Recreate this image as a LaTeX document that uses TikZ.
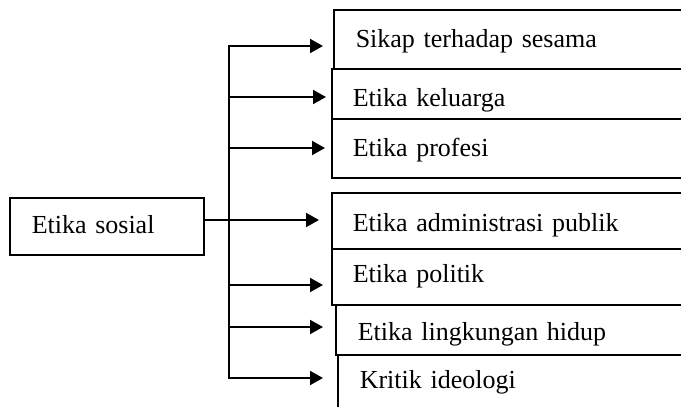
\documentclass[tikz,border=0pt]{standalone}
\usepackage{fontspec}
\setmainfont{Liberation Serif}
\usetikzlibrary{arrows.meta,calc}

\begin{document}
\begin{tikzpicture}[x=1pt,y=-1pt,font=\fontsize{26}{30}\selectfont,
  catbox/.style={draw,line width=1.5pt,anchor=north west,inner ysep=0pt,text width=400pt,align=left},
  branch/.style={line width=2pt,-{Triangle[length=13pt,width=14pt]}}]
\useasboundingbox (0,0) rectangle (681,407);
\clip (0,0) rectangle (681,407);

\node[catbox,text width=150pt,inner xsep=22pt,text height=36pt,text depth=21pt] (sosial) at (9,197) {Etika sosial};

\node[catbox,inner xsep=22pt,text height=38pt,text depth=21pt] (sikap) at (333,9) {Sikap terhadap sesama};
\node[catbox,inner xsep=21pt,text height=38pt,text depth=12pt] (keluarga) at (331,68) {Etika keluarga};
\node[catbox,inner xsep=21pt,text height=38pt,text depth=21pt] (profesi) at (331,118) {Etika profesi};
\node[catbox,inner xsep=21pt,text height=39pt,text depth=17pt] (admin) at (331,192) {Etika administrasi publik};
\node[catbox,inner xsep=21pt,text height=34pt,text depth=22pt] (politik) at (331,248) {Etika politik};
\node[catbox,inner xsep=22pt,text height=36pt,text depth=14pt] (lingkungan) at (335,304) {Etika lingkungan hidup};
\node[catbox,inner xsep=22pt,text height=34pt,text depth=32pt] (kritik) at (337,354) {Kritik ideologi};

% bus with branches
\foreach \b/\y/\s in {sikap/46/10,keluarga/97/5,profesi/148/6,politik/285/8,lingkungan/327/12,kritik/378/14}{
  \coordinate (b-\b) at (229,\y);
  \draw[branch,shorten >=\s pt] (b-\b) -- (b-\b -| \b.west);
}
\coordinate (b-admin) at (229,220);
\draw[line width=2pt,line cap=rect] (b-sikap) -- (b-kritik);
\draw[branch,shorten >=12pt] (sosial.east |- b-admin) -- (b-admin -| admin.west);
\end{tikzpicture}
\end{document}
